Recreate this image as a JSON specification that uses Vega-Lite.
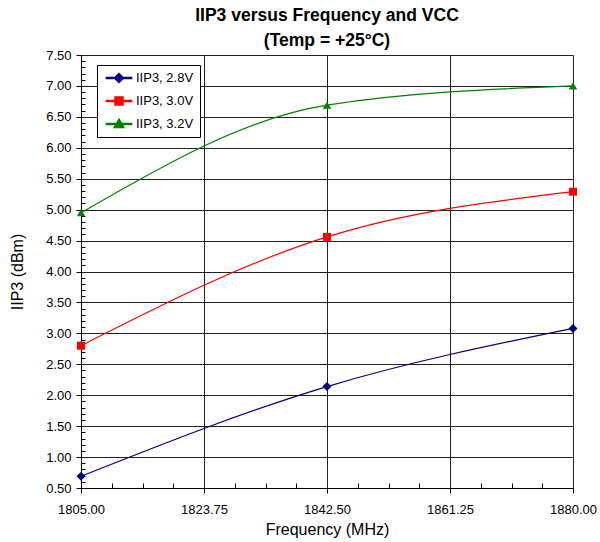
{
  "$schema": "https://vega.github.io/schema/vega-lite/v6.json",
  "width": 492,
  "height": 433,
  "autosize": {"type": "none"},
  "padding": {"left": 81, "top": 55, "right": 27, "bottom": 54},
  "config": {
    "font": "Liberation Sans",
    "view": {"stroke": null},
    "axis": {
      "labelFont": "Liberation Sans",
      "labelFontSize": 13,
      "labelColor": "#000",
      "titleFont": "Liberation Sans",
      "titleFontSize": 16,
      "titleFontWeight": "normal",
      "titleColor": "#000",
      "domainColor": "#000",
      "tickColor": "#000",
      "gridColor": "#222",
      "gridOpacity": 1,
      "gridWidth": 1
    }
  },
  "title": {
    "text": ["IIP3 versus Frequency and VCC", "(Temp = +25°C)"],
    "font": "Liberation Sans",
    "fontSize": 17.5,
    "fontWeight": "bold",
    "color": "#000",
    "anchor": "middle",
    "lineHeight": 25,
    "offset": 0
  },
  "data": {
    "values": [
      {"series": "IIP3, 2.8V", "freq": 1805, "iip3": 0.69},
      {"series": "IIP3, 2.8V", "freq": 1842.5, "iip3": 2.14},
      {"series": "IIP3, 2.8V", "freq": 1880, "iip3": 3.08},
      {"series": "IIP3, 3.0V", "freq": 1805, "iip3": 2.80},
      {"series": "IIP3, 3.0V", "freq": 1842.5, "iip3": 4.56},
      {"series": "IIP3, 3.0V", "freq": 1880, "iip3": 5.29},
      {"series": "IIP3, 3.2V", "freq": 1805, "iip3": 4.95},
      {"series": "IIP3, 3.2V", "freq": 1842.5, "iip3": 6.69},
      {"series": "IIP3, 3.2V", "freq": 1880, "iip3": 7.00}
    ]
  },
  "layer": [
    {
      "mark": {"type": "point", "opacity": 0},
      "encoding": {
        "x": {
          "field": "freq", "type": "quantitative",
          "scale": {"domain": [1805, 1880], "nice": false, "zero": false},
          "axis": {
            "orient": "bottom", "title": null, "labels": false, "grid": false, "domain": false,
            "tickSize": -5,
            "values": [1809.6875, 1814.375, 1819.0625, 1828.4375, 1833.125, 1837.8125, 1847.1875, 1851.875, 1856.5625, 1865.9375, 1870.625, 1875.3125]
          }
        },
        "y": {
          "field": "iip3", "type": "quantitative",
          "scale": {"domain": [0.5, 7.5], "nice": false, "zero": false},
          "axis": {
            "orient": "left", "title": null, "labels": false, "grid": false, "domain": false,
            "tickSize": -4,
            "values": [0.6, 0.7, 0.8, 0.9, 1.1, 1.2, 1.3, 1.4, 1.6, 1.7, 1.8, 1.9, 2.1, 2.2, 2.3, 2.4, 2.6, 2.7, 2.8, 2.9, 3.1, 3.2, 3.3, 3.4, 3.6, 3.7, 3.8, 3.9, 4.1, 4.2, 4.3, 4.4, 4.6, 4.7, 4.8, 4.9, 5.1, 5.2, 5.3, 5.4, 5.6, 5.7, 5.8, 5.9, 6.1, 6.2, 6.3, 6.4, 6.6, 6.7, 6.8, 6.9, 7.1, 7.2, 7.3, 7.4]
          }
        }
      }
    },
    {
      "mark": {"type": "line", "interpolate": "monotone", "strokeWidth": 1.2},
      "encoding": {
        "x": {
          "field": "freq", "type": "quantitative",
          "scale": {"domain": [1805, 1880], "nice": false, "zero": false},
          "axis": {
            "orient": "bottom", "title": "Frequency (MHz)", "values": [1805, 1823.75, 1842.5, 1861.25, 1880],
            "format": ".2f", "grid": true, "tickSize": 5, "labelPadding": 10, "titlePadding": 5, "labelFlush": false
          }
        },
        "y": {
          "field": "iip3", "type": "quantitative",
          "scale": {"domain": [0.5, 7.5], "nice": false, "zero": false},
          "axis": {
            "orient": "left", "title": "IIP3 (dBm)", "values": [0.5, 1, 1.5, 2, 2.5, 3, 3.5, 4, 4.5, 5, 5.5, 6, 6.5, 7, 7.5],
            "format": ".2f", "grid": true, "tickSize": 5, "labelPadding": 5, "titlePadding": 20, "labelFlush": false
          }
        },
        "color": {
          "field": "series", "type": "nominal",
          "scale": {"domain": ["IIP3, 2.8V", "IIP3, 3.0V", "IIP3, 3.2V"], "range": ["#000080", "#FF0000", "#008000"]},
          "legend": {
            "orient": "none", "legendX": 16, "legendY": 10, "title": null,
            "strokeColor": "#000", "fillColor": "#fff", "padding": 6,
            "symbolSize": 144, "symbolOffset": 9, "labelOffset": 10, "rowPadding": 7,
            "labelFont": "Liberation Sans", "labelFontSize": 13, "labelColor": "#000",
            "encode": {
              "symbols": {
                "update": {
                  "shape": {"signal": "datum.value === 'IIP3, 2.8V' ? 'M-2.1,-0.09L2.1,-0.09L2.1,0.09L-2.1,0.09ZM0,-0.75L0.75,0L0,0.75L-0.75,0Z' : datum.value === 'IIP3, 3.0V' ? 'M-2.1,-0.09L2.1,-0.09L2.1,0.09L-2.1,0.09ZM-0.67,-0.67L0.67,-0.67L0.67,0.67L-0.67,0.67Z' : 'M-2.1,-0.09L2.1,-0.09L2.1,0.09L-2.1,0.09ZM0,-0.8L0.8,0.6L-0.8,0.6Z'"},
                  "fill": {"scale": "color", "field": "value"},
                  "stroke": {"value": "transparent"},
                  "opacity": {"value": 1}
                }
              }
            }
          }
        }
      }
    },
    {
      "transform": [{"filter": "datum.series === 'IIP3, 2.8V'"}],
      "mark": {"type": "point", "filled": true, "size": 80, "opacity": 1, "shape": "diamond"},
      "encoding": {
        "x": {"field": "freq", "type": "quantitative", "axis": null},
        "y": {"field": "iip3", "type": "quantitative", "axis": null},
        "color": {"field": "series", "type": "nominal"}
      }
    },
    {
      "transform": [{"filter": "datum.series === 'IIP3, 3.0V'"}],
      "mark": {"type": "point", "filled": true, "size": 64, "opacity": 1, "shape": "square"},
      "encoding": {
        "x": {"field": "freq", "type": "quantitative", "axis": null},
        "y": {"field": "iip3", "type": "quantitative", "axis": null},
        "color": {"field": "series", "type": "nominal"}
      }
    },
    {
      "transform": [{"filter": "datum.series === 'IIP3, 3.2V'"}],
      "mark": {"type": "point", "filled": true, "size": 70, "opacity": 1, "shape": "triangle-up"},
      "encoding": {
        "x": {"field": "freq", "type": "quantitative", "axis": null},
        "y": {"field": "iip3", "type": "quantitative", "axis": null},
        "color": {"field": "series", "type": "nominal"}
      }
    }
  ],
  "resolve": {"axis": {"x": "independent", "y": "independent"}}
}
